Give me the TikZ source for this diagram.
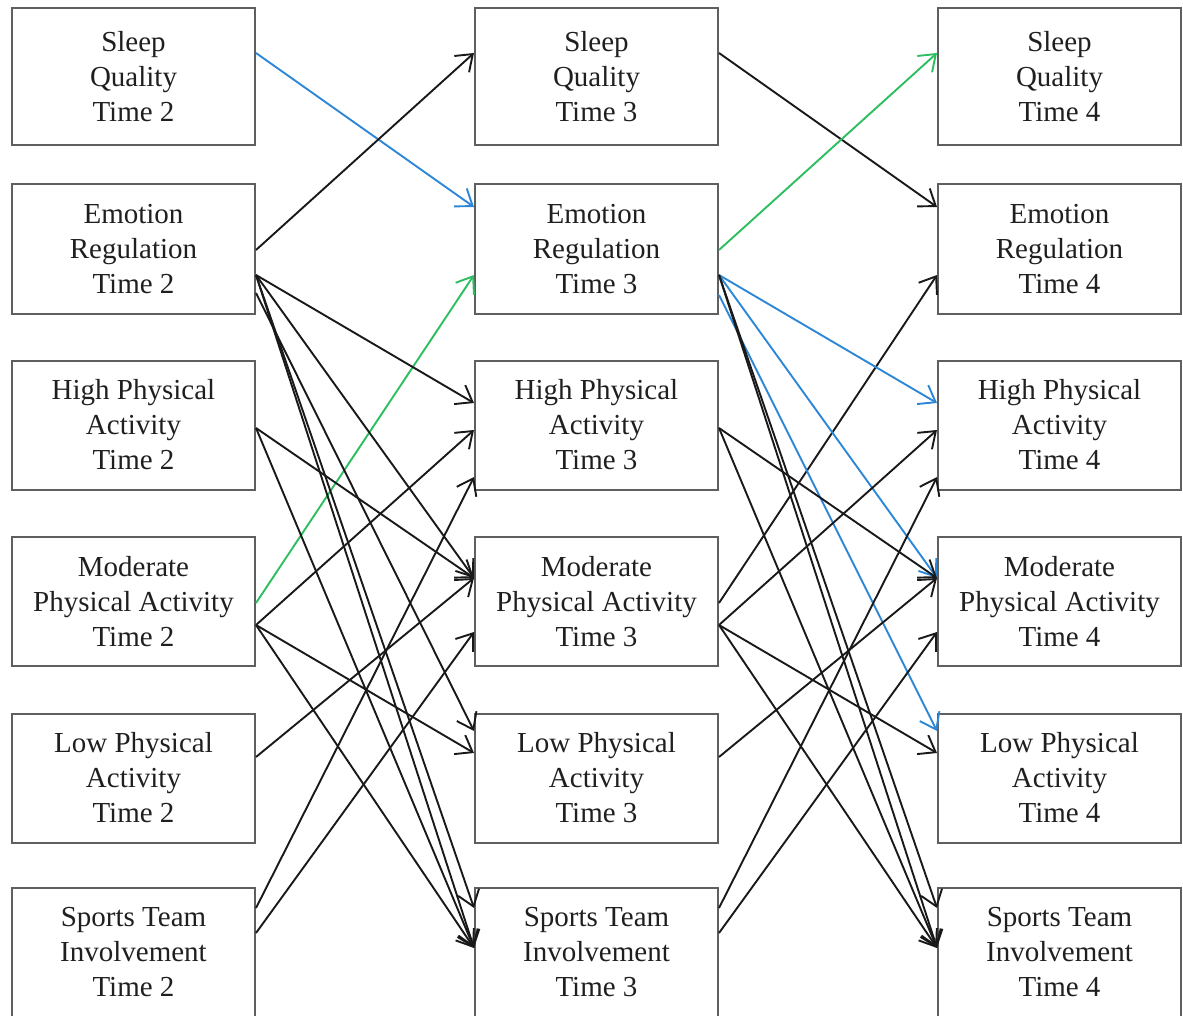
\documentclass[tikz,border=0pt]{standalone}
\usepackage{fontspec}
\setmainfont{Liberation Serif}
\usetikzlibrary{arrows.meta}
\definecolor{lnblue}{RGB}{45,135,215}
\definecolor{lngreen}{RGB}{45,190,95}
\definecolor{boxgray}{RGB}{95,95,95}
\begin{document}
\begin{tikzpicture}[x=1pt,y=-1pt,
  varbox/.style={draw=boxgray, line width=2pt, minimum width=243pt, minimum height=129pt,
    align=center, inner sep=0pt, font=\fontsize{29}{35}\selectfont, text=black!88},
  tallbox/.style={varbox, minimum height=137pt},
  conn/.style={line width=1.9pt, draw=black!90, -{Straight Barb[length=15pt,width=22pt]}},
  blueconn/.style={conn, draw=lnblue},
  greenconn/.style={conn, draw=lngreen}]
\useasboundingbox (0,0) rectangle (1183,1016);
% column 1
\node[tallbox] (sq2)  at (133.5,76.5) {Sleep\\Quality\\Time 2};
\node[varbox]  (er2)  at (133.5,249)  {Emotion\\Regulation\\Time 2};
\node[varbox]  (hpa2) at (133.5,425)  {High Physical\\Activity\\Time 2};
\node[varbox]  (mpa2) at (133.5,601.5){Moderate\\Physical Activity\\Time 2};
\node[varbox]  (lpa2) at (133.5,778)  {Low Physical\\Activity\\Time 2};
\node[varbox]  (sti2) at (133.5,952)  {Sports Team\\Involvement\\Time 2};
% column 2
\node[tallbox] (sq3)  at (596.5,76.5) {Sleep\\Quality\\Time 3};
\node[varbox]  (er3)  at (596.5,249)  {Emotion\\Regulation\\Time 3};
\node[varbox]  (hpa3) at (596.5,425)  {High Physical\\Activity\\Time 3};
\node[varbox]  (mpa3) at (596.5,601.5){Moderate\\Physical Activity\\Time 3};
\node[varbox]  (lpa3) at (596.5,778)  {Low Physical\\Activity\\Time 3};
\node[varbox]  (sti3) at (596.5,952)  {Sports Team\\Involvement\\Time 3};
% column 3
\node[tallbox] (sq4)  at (1059.5,76.5) {Sleep\\Quality\\Time 4};
\node[varbox]  (er4)  at (1059.5,249)  {Emotion\\Regulation\\Time 4};
\node[varbox]  (hpa4) at (1059.5,425)  {High Physical\\Activity\\Time 4};
\node[varbox]  (mpa4) at (1059.5,601.5){Moderate\\Physical Activity\\Time 4};
\node[varbox]  (lpa4) at (1059.5,778)  {Low Physical\\Activity\\Time 4};
\node[varbox]  (sti4) at (1059.5,952)  {Sports Team\\Involvement\\Time 4};
% Time 2 -> Time 3
\draw[blueconn]  ([yshift=23.5pt]sq2.east) -- ([yshift=42pt]er3.west);
\draw[conn]      ([yshift=-1pt]er2.east)   -- ([yshift=23.5pt]sq3.west);
\draw[greenconn] ([yshift=-1.5pt]mpa2.east) -- ([yshift=-26pt]er3.west);
\draw[conn] ([yshift=-26pt]er2.east) -- ([yshift=22pt]hpa3.west);
\draw[conn] ([yshift=-26pt]er2.east) -- ([yshift=23.5pt]mpa3.west);
\draw[conn] ([yshift=-44pt]er2.east) -- ([yshift=47pt]lpa3.west);
\draw[conn] ([yshift=-26pt]er2.east) -- ([yshift=44pt]sti3.west);
\draw[conn] ([yshift=-26pt]er2.east) -- ([yshift=4pt]sti3.west);
\draw[conn] ([yshift=-3pt]hpa2.east) -- ([yshift=23.5pt]mpa3.west);
\draw[conn] ([yshift=-3pt]hpa2.east) -- ([yshift=4pt]sti3.west);
\draw[conn] ([yshift=-23.5pt]mpa2.east) -- ([yshift=-5pt]hpa3.west);
\draw[conn] ([yshift=-23.5pt]mpa2.east) -- ([yshift=25pt]lpa3.west);
\draw[conn] ([yshift=-23.5pt]mpa2.east) -- ([yshift=4pt]sti3.west);
\draw[conn] ([yshift=21pt]lpa2.east) -- ([yshift=23.5pt]mpa3.west);
\draw[conn] ([yshift=44pt]sti2.east) -- ([yshift=-52pt]hpa3.west);
\draw[conn] ([yshift=19pt]sti2.east) -- ([yshift=-30.5pt]mpa3.west);
% Time 3 -> Time 4
\draw[conn]      ([yshift=23.5pt]sq3.east) -- ([yshift=42pt]er4.west);
\draw[greenconn] ([yshift=-1pt]er3.east)   -- ([yshift=23.5pt]sq4.west);
\draw[conn]      ([yshift=-1.5pt]mpa3.east) -- ([yshift=-26pt]er4.west);
\draw[blueconn] ([yshift=-26pt]er3.east) -- ([yshift=22pt]hpa4.west);
\draw[blueconn] ([yshift=-26pt]er3.east) -- ([yshift=23.5pt]mpa4.west);
\draw[blueconn] ([yshift=-46pt]er3.east) -- ([yshift=47pt]lpa4.west);
\draw[conn] ([yshift=-26pt]er3.east) -- ([yshift=44pt]sti4.west);
\draw[conn] ([yshift=-26pt]er3.east) -- ([yshift=4pt]sti4.west);
\draw[conn] ([yshift=-3pt]hpa3.east) -- ([yshift=23.5pt]mpa4.west);
\draw[conn] ([yshift=-3pt]hpa3.east) -- ([yshift=4pt]sti4.west);
\draw[conn] ([yshift=-23.5pt]mpa3.east) -- ([yshift=-5pt]hpa4.west);
\draw[conn] ([yshift=-23.5pt]mpa3.east) -- ([yshift=25pt]lpa4.west);
\draw[conn] ([yshift=-23.5pt]mpa3.east) -- ([yshift=4pt]sti4.west);
\draw[conn] ([yshift=21pt]lpa3.east) -- ([yshift=23.5pt]mpa4.west);
\draw[conn] ([yshift=44pt]sti3.east) -- ([yshift=-52pt]hpa4.west);
\draw[conn] ([yshift=19pt]sti3.east) -- ([yshift=-30.5pt]mpa4.west);
\end{tikzpicture}
\end{document}
